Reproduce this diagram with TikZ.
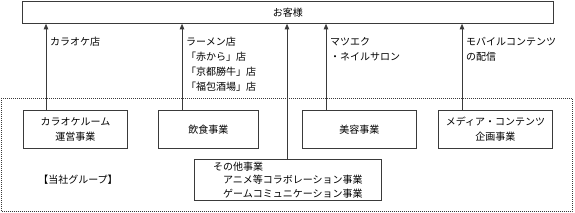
\documentclass[tikz,border=0pt]{standalone}
\usepackage{fontspec}
\setmainfont{Noto Sans CJK JP}
\usetikzlibrary{arrows.meta}
\definecolor{linegray}{HTML}{3A3A3A}
\tikzset{
  bx/.style={draw=linegray, line width=0.8pt, inner sep=0pt, anchor=north west, align=center},
  arr/.style={draw=linegray, line width=0.8pt, -{Triangle[width=4.5pt,length=5.5pt]}},
  lbl/.style={inner sep=0pt, anchor=west},
  grp/.style={draw=linegray, line width=0.7pt, dash pattern=on 1pt off 1pt}
}
\begin{document}
\begin{tikzpicture}[x=1pt,y=-1pt, font=\fontsize{10}{15}\selectfont]
\useasboundingbox (0,0) rectangle (575,213);
% group dotted frame
\draw[grp] (1,98) rectangle (572,211.5);
% customers
\node[bx, minimum width=531pt, minimum height=22pt] (cust) at (22,1) {お客様};
% business boxes
\node[bx, minimum width=104pt, minimum height=38pt] (kara) at (23,110) {カラオケルーム\\運営事業};
\node[bx, minimum width=100pt, minimum height=38pt] (food) at (158,110) {飲食事業};
\node[bx, minimum width=114pt, minimum height=38pt] (beauty) at (302,110) {美容事業};
\node[bx, minimum width=114pt, minimum height=38pt] (media) at (438,110) {メディア・コンテンツ\\企画事業};
\node[bx, minimum width=187pt, minimum height=41pt, align=left, font=\fontsize{10}{13.5}\selectfont] (other) at (194,159)
  {その他事業\\\hspace*{10pt}アニメ等コラボレーション事業\\\hspace*{10pt}ゲームコミュニケーション事業};
\node[inner sep=0pt] (group) at (78,180) {【当社グループ】};
% arrow columns
\coordinate (c1) at (46,0);
\coordinate (c2) at (182,0);
\coordinate (c3) at (287,0);
\coordinate (c4) at (326,0);
\coordinate (c5) at (462,0);
\draw[arr] (c1 |- kara.north) -- (c1 |- cust.south);
\draw[arr] (c2 |- food.north) -- (c2 |- cust.south);
\draw[arr] (c3 |- other.north) -- (c3 |- cust.south);
\draw[arr] (c4 |- beauty.north) -- (c4 |- cust.south);
\draw[arr] (c5 |- media.north) -- (c5 |- cust.south);
% labels
\node[lbl] (l1) at (50,42) {カラオケ店};
\node[lbl] (l2a) at (186,42) {ラーメン店};
\node[lbl] (l2b) at (186,57) {「赤から」店};
\node[lbl] (l2c) at (186,72) {「京都勝牛」店};
\node[lbl] (l2d) at (186,87) {「福包酒場」店};
\node[lbl] (l4a) at (330,42) {マツエク};
\node[lbl] (l4b) at (330,57) {・ネイルサロン};
\node[lbl] (l5a) at (466,42) {モバイルコンテンツ};
\node[lbl] (l5b) at (466,57) {の配信};
\end{tikzpicture}
\end{document}
